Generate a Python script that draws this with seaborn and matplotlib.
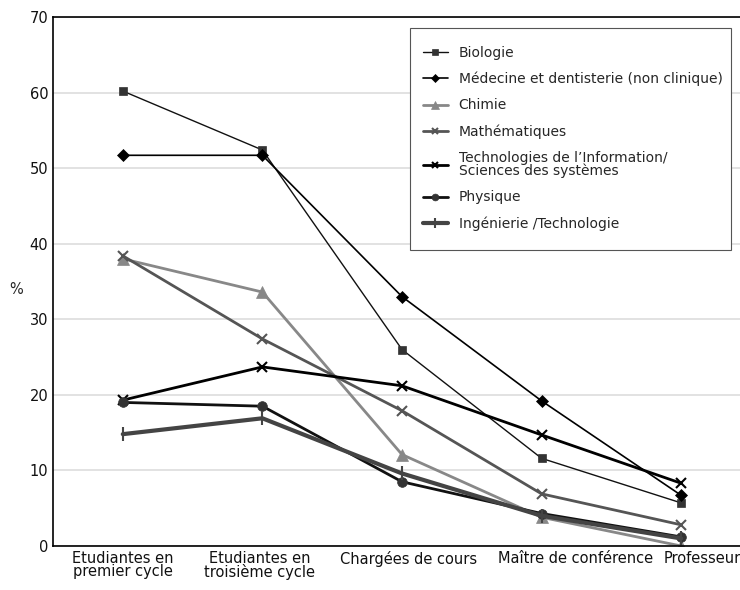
import pandas as pd
import seaborn as sns
import matplotlib as mpl
mpl.use("Agg")
import matplotlib.pyplot as plt
from matplotlib.patches import Rectangle
from matplotlib.transforms import ScaledTranslation

categories = ["Etudiantes en\npremier cycle", "Etudiantes en\ntroisième cycle",
              "Chargées de cours", "Maître de conférence", "Professeur"]

biologie = [60.2, 52.4, 26.0, 11.6, 5.7]
medecine = [51.7, 51.7, 33.0, 19.2, 6.7]
chimie = [38.0, 33.6, 12.1, 3.8, 0.0]
maths = [38.4, 27.4, 17.9, 6.9, 2.8]
info = [19.3, 23.7, 21.2, 14.7, 8.3]
physique = [19.0, 18.5, 8.5, 4.3, 1.2]
ingenierie = [14.8, 16.9, 9.6, 4.0, 1.0]

series = ["Biologie", "Médecine et dentisterie (non clinique)", "Chimie", "Mathématiques",
          "Technologies de l\u2019Information/\nSciences des systèmes", "Physique",
          "Ingénierie /Technologie"]
values = [biologie, medecine, chimie, maths, info, physique, ingenierie]

# color, marker, linewidth, markersize, marker color
styles = [
    ("#111111", "s", 1.0, 6, "#333333"),
    ("#000000", "D", 1.2, 6, "#000000"),
    ("#888888", "^", 2.0, 8, "#888888"),
    ("#555555", "x", 2.0, 7, "#555555"),
    ("#000000", "x", 2.0, 7, "#000000"),
    ("#111111", "o", 2.0, 7, "#333333"),
    ("#444444", "|", 3.0, 10, "#444444"),
]

rows = []
for name, vals in zip(series, values):
    for c, v in zip(categories, vals):
        rows.append({"cat": c, "val": v, "serie": name})
df = pd.DataFrame(rows)

sns.set_style("white")
plt.rcParams["font.family"] = ["DejaVu Sans"]

fig = plt.figure(figsize=(7.4, 5.9), dpi=100)
ax = fig.add_axes([53 / 740, 1 - 546 / 590, 698 / 740, (546 - 17) / 590])

for name, (col, mk, lw, ms, mc) in zip(series, styles):
    sub = df[df["serie"] == name]
    sns.lineplot(data=sub, x="cat", y="val", ax=ax, color=col, lw=lw, marker=mk,
                 markersize=ms, markerfacecolor=mc, markeredgecolor=mc,
                 markeredgewidth=1.5 if mk in ("x", "|") else 0.5, label=name, sort=False)

ax.set_xlim(-0.5, 4.5)
ax.set_ylim(0, 70)
ax.set_yticks(range(0, 71, 10))
ax.grid(axis="y", color="#dddddd", lw=1.2)
ax.set_axisbelow(True)
ax.set_xlabel("")
ax.set_ylabel("%", rotation=0, fontsize=10.5)
ax.yaxis.set_label_coords(-0.053, 0.47)
ax.tick_params(axis="both", labelsize=10.5, length=0, colors="#111111")

# labels are pushed apart like in the original
shifts = [0, -3, 7, 34, 21]
for lab, dx in zip(ax.get_xticklabels(), shifts):
    lab.set_linespacing(0.85)
    lab.set_transform(lab.get_transform() + ScaledTranslation(dx / 100, 0, fig.dpi_scale_trans))

ax.spines["right"].set_visible(False)
for s in ["left", "bottom", "top"]:
    ax.spines[s].set_color("#000000")
    ax.spines[s].set_linewidth(1.2)

leg = ax.legend(loc="upper left", bbox_to_anchor=(410 / 740, 1 - 33 / 590),
                bbox_transform=fig.transFigure, fontsize=10, frameon=False,
                labelspacing=0.88, handlelength=1.8, borderpad=0.9,
                borderaxespad=0, markerscale=0.7)
for t in leg.get_texts():
    t.set_linespacing(0.85)
leg.set_zorder(6)

# legend box drawn on its own
box = Rectangle((410 / 740, 1 - 250 / 590), 321 / 740, 222 / 590,
                transform=fig.transFigure, facecolor="white",
                edgecolor="#555555", lw=0.8, zorder=5, clip_on=False)
ax.add_patch(box)

fig.savefig("out.png", dpi=100)
